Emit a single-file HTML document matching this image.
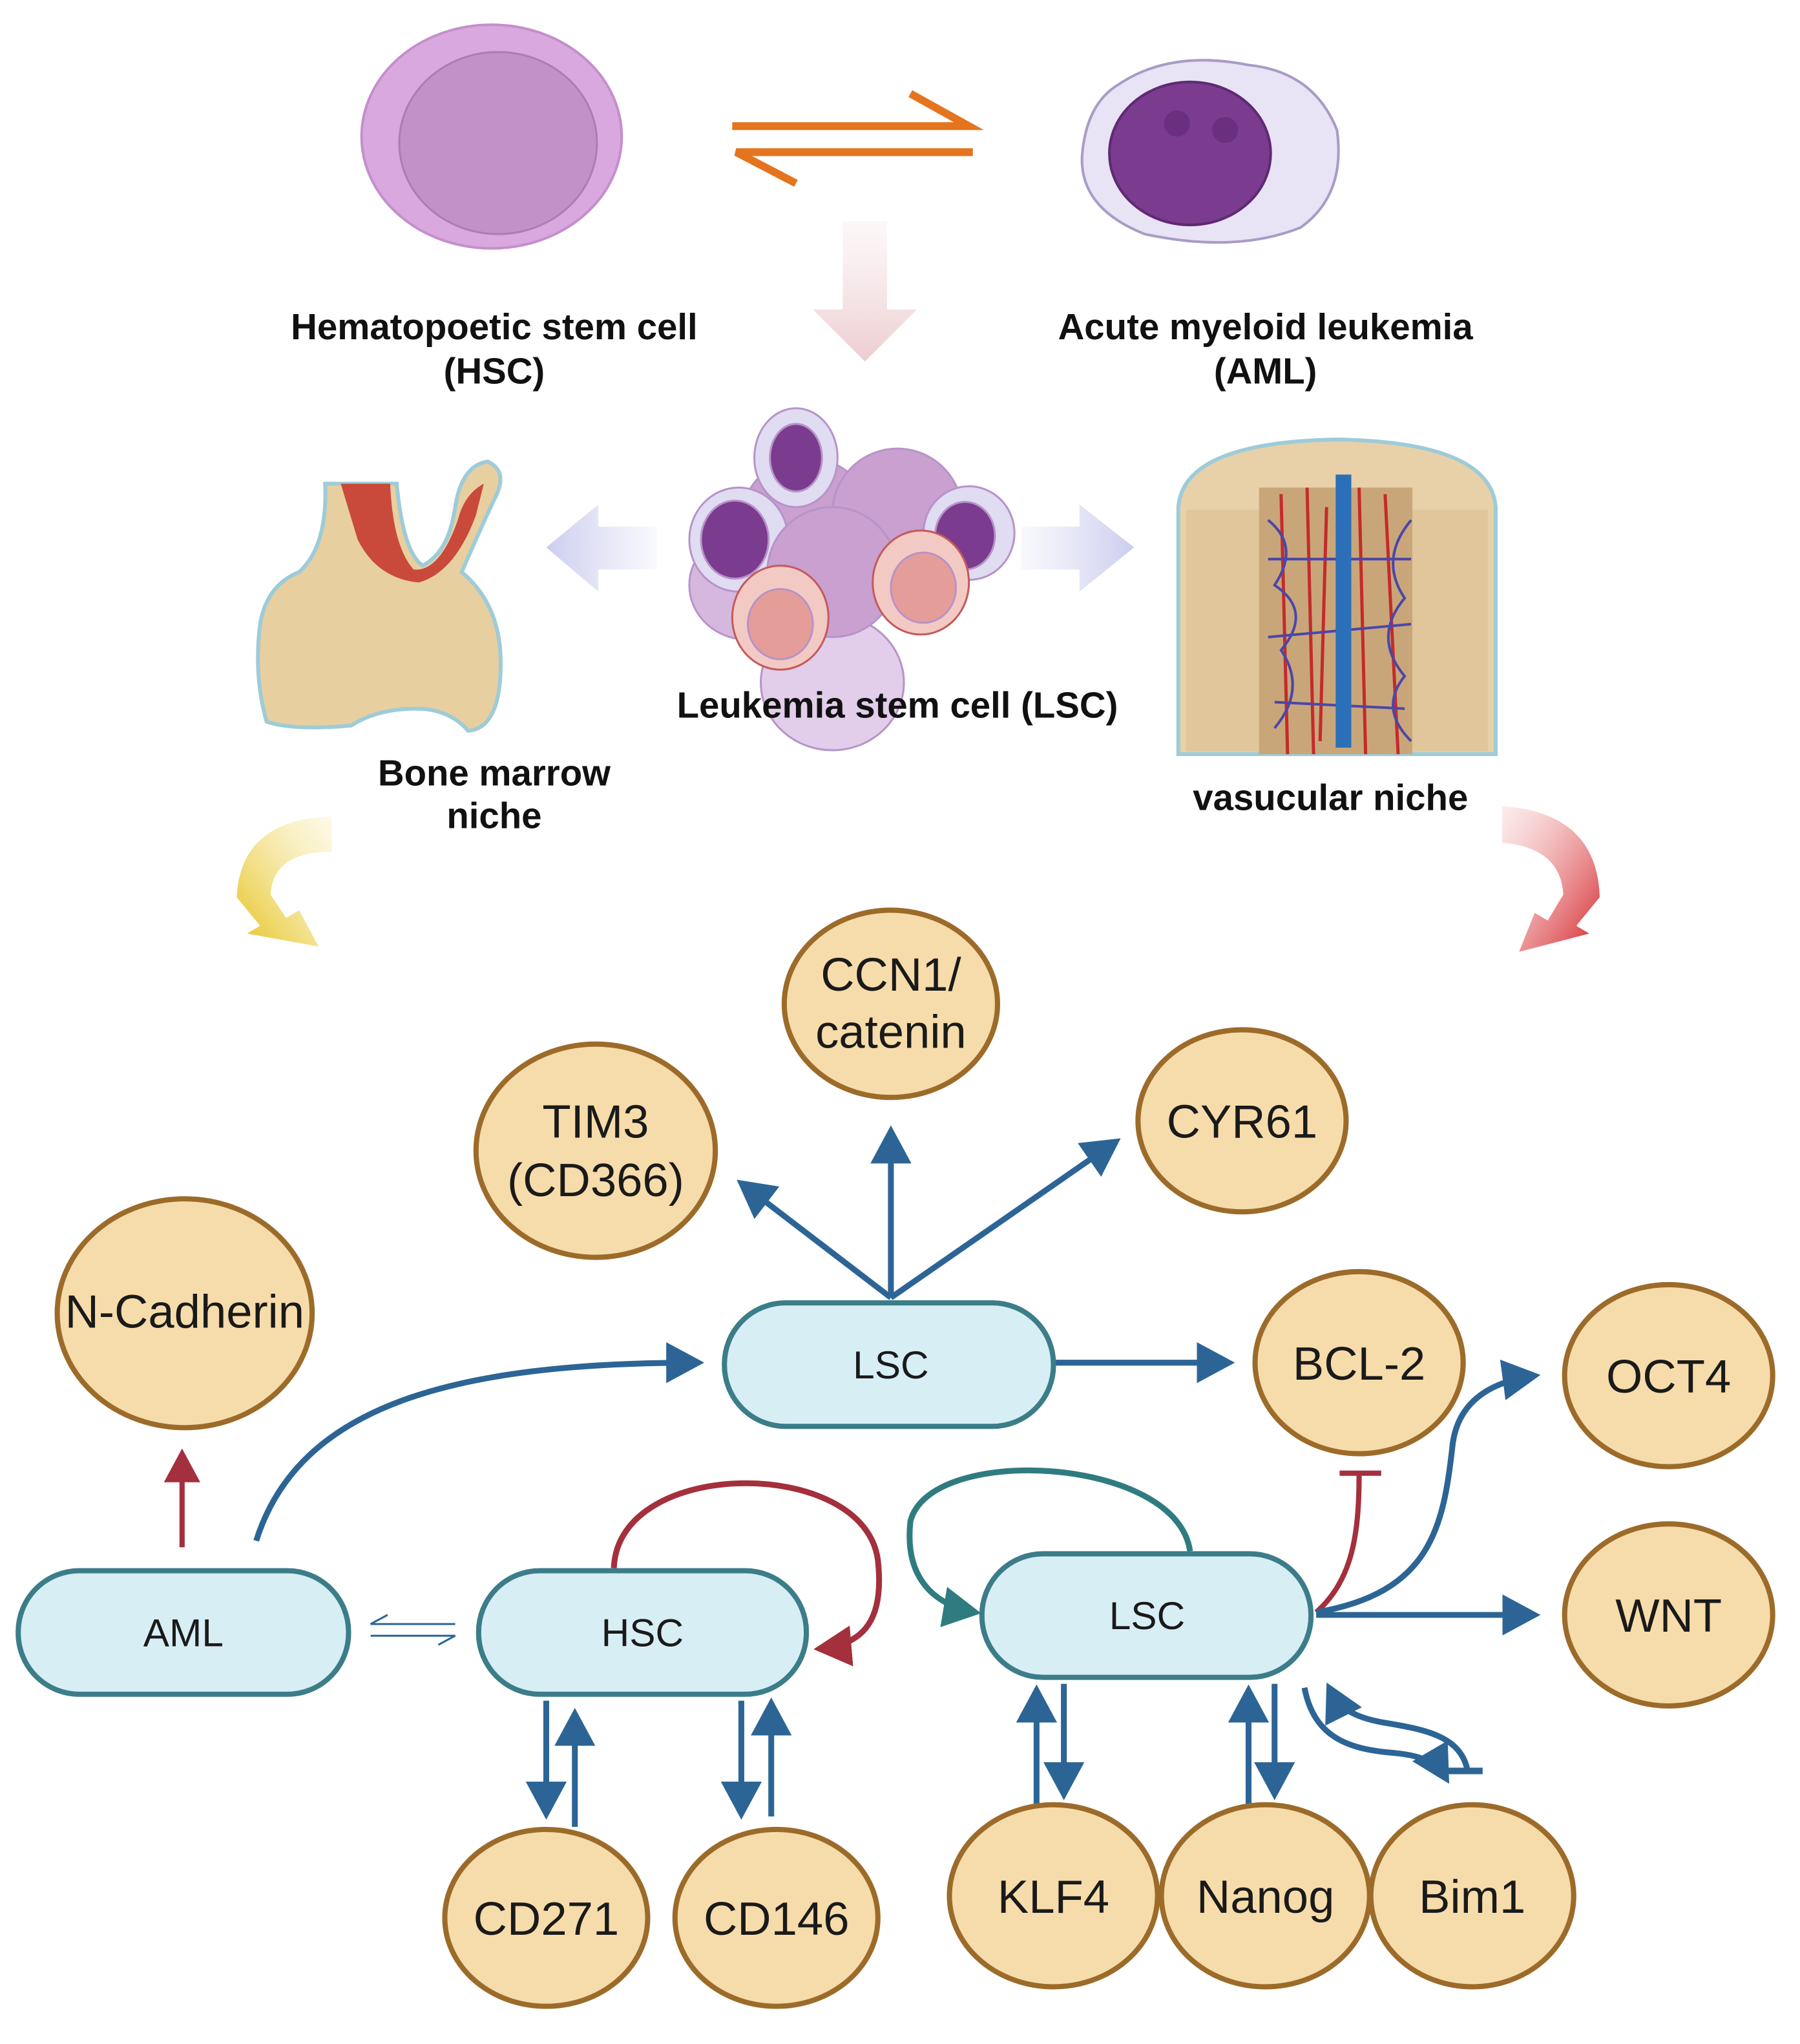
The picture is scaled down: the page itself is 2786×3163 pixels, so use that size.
<!DOCTYPE html>
<html><head><meta charset="utf-8"><style>
html,body{margin:0;padding:0;background:#fff}
svg{display:block}
text{font-family:"Liberation Sans",sans-serif}
.b{font-weight:bold;font-size:28px;fill:#111}
.n{font-size:36px;fill:#1a1a1a}
.p{font-size:30px;fill:#1a1a1a}
.e{fill:#f6dcaa;stroke:#9c6b2a;stroke-width:4}
.pl{fill:#d8eef5;stroke:#3b7d88;stroke-width:4}
.bl{fill:none;stroke:#2c6595;stroke-width:4.5}
</style></head><body>
<svg width="2786" height="3163" viewBox="0 0 1384 1572" preserveAspectRatio="none" xmlns="http://www.w3.org/2000/svg">
<defs>
<marker id="ab" markerWidth="8" markerHeight="8" refX="5.5" refY="3.5" orient="auto" markerUnits="strokeWidth"><path d="M0,0 L6.5,3.5 L0,7 z" fill="#2c6595"/></marker>
<marker id="ar" markerWidth="8" markerHeight="8" refX="5.5" refY="3.5" orient="auto" markerUnits="strokeWidth"><path d="M0,0 L6.5,3.5 L0,7 z" fill="#a3303c"/></marker>
<marker id="at" markerWidth="8" markerHeight="8" refX="5.5" refY="3.5" orient="auto" markerUnits="strokeWidth"><path d="M0,0 L6.5,3.5 L0,7 z" fill="#2f7c80"/></marker>
<linearGradient id="pk" x1="0" y1="0" x2="0" y2="1"><stop offset="0" stop-color="#f6e6e8" stop-opacity="0.3"/><stop offset="1" stop-color="#ecccd0"/></linearGradient>
<linearGradient id="lvL" x1="1" y1="0" x2="0" y2="0"><stop offset="0" stop-color="#dcdcf4" stop-opacity="0.2"/><stop offset="1" stop-color="#cccdee"/></linearGradient>
<linearGradient id="lvR" x1="0" y1="0" x2="1" y2="0"><stop offset="0" stop-color="#dcdcf4" stop-opacity="0.2"/><stop offset="1" stop-color="#cccdee"/></linearGradient>
<linearGradient id="yl" x1="1" y1="0" x2="0" y2="1"><stop offset="0" stop-color="#f8ecb0" stop-opacity="0.3"/><stop offset="1" stop-color="#e6c21e"/></linearGradient>
<linearGradient id="rd" x1="0" y1="0" x2="1" y2="1"><stop offset="0" stop-color="#f6c0c0" stop-opacity="0.3"/><stop offset="1" stop-color="#d4262c"/></linearGradient>
</defs>

<!-- HSC cell -->
<ellipse cx="378" cy="105" rx="100" ry="86" fill="#d9a8de" stroke="#c48fcb" stroke-width="2"/>
<ellipse cx="383" cy="110" rx="76" ry="70" fill="#c291c8" stroke="#b07ab8" stroke-width="1.5"/>
<!-- equilibrium arrows -->
<path d="M563,97 L745,97 L700,72" fill="none" stroke="#e5741e" stroke-width="6"/>
<path d="M748,117 L566,117 L612,141" fill="none" stroke="#e5741e" stroke-width="6"/>
<!-- AML cell -->
<path d="M860,65 Q900,38 960,50 Q1010,55 1028,100 Q1035,150 1000,175 Q950,195 880,180 Q830,160 832,120 Q835,80 860,65z" fill="#e8e3f5" stroke="#a89cc6" stroke-width="2"/>
<ellipse cx="915" cy="118" rx="62" ry="55" fill="#7b3b8f" stroke="#5e2a72" stroke-width="2"/>
<circle cx="905" cy="95" r="10" fill="#6a2f7e"/><circle cx="942" cy="100" r="10" fill="#6a2f7e"/>
<!-- pink down arrow -->
<path d="M648,170 L682,170 L682,238 L705,238 L665,278 L625,238 L648,238z" fill="url(#pk)"/>
<text class="b" x="380" y="261" text-anchor="middle">Hematopoetic stem cell</text>
<text class="b" x="380" y="295" text-anchor="middle">(HSC)</text>
<text class="b" x="973" y="261" text-anchor="middle">Acute myeloid leukemia</text>
<text class="b" x="973" y="295" text-anchor="middle">(AML)</text>

<!-- lavender arrows -->
<path d="M505,405 L460,405 L460,388 L420,421 L460,455 L460,438 L505,438z" fill="url(#lvL)"/>
<path d="M785,405 L830,405 L830,388 L872,421 L830,455 L830,438 L785,438z" fill="url(#lvR)"/>

<!-- LSC cluster -->
<g stroke="#b793c8" stroke-width="1.5">
<ellipse cx="640" cy="525" rx="55" ry="52" fill="#e2cdea"/>
<ellipse cx="620" cy="400" rx="50" ry="48" fill="#c9a0d0"/>
<ellipse cx="690" cy="395" rx="50" ry="50" fill="#c9a0d0"/>
<ellipse cx="575" cy="450" rx="45" ry="42" fill="#d6b8df"/>
<ellipse cx="612" cy="352" rx="32" ry="38" fill="#e0dcf2"/>
<ellipse cx="612" cy="352" rx="20" ry="26" fill="#7b3b8f"/>
<ellipse cx="568" cy="415" rx="38" ry="40" fill="#e0dcf2"/>
<ellipse cx="565" cy="415" rx="26" ry="30" fill="#7b3b8f"/>
<ellipse cx="745" cy="410" rx="35" ry="36" fill="#e0dcf2"/>
<ellipse cx="742" cy="412" rx="23" ry="26" fill="#7b3b8f"/>
<ellipse cx="640" cy="440" rx="50" ry="50" fill="#c9a0d0"/>
<ellipse cx="600" cy="475" rx="37" ry="40" fill="#f3c9c4" stroke="#c45a5a"/>
<ellipse cx="600" cy="480" rx="25" ry="27" fill="#e59d9a"/>
<ellipse cx="708" cy="448" rx="37" ry="40" fill="#f3c9c4" stroke="#c45a5a"/>
<ellipse cx="710" cy="452" rx="25" ry="27" fill="#e59d9a"/>
</g>
<text class="b" x="690" y="552" text-anchor="middle">Leukemia stem cell (LSC)</text>

<!-- bone -->
<path d="M250,372 L305,372 Q310,425 325,435 Q345,425 350,390 Q355,358 375,355 Q390,362 382,380 Q370,405 355,440 Q385,465 385,510 Q385,560 360,562 Q345,545 320,545 Q290,545 270,558 Q225,562 205,555 Q195,520 200,480 Q205,450 230,440 Q252,420 250,372z" fill="#e8cfa0" stroke="#9ecbd8" stroke-width="3"/>
<path d="M262,372 L300,372 Q302,420 318,438 Q338,440 352,400 Q357,380 372,372 L366,396 Q350,440 322,448 Q290,445 275,415z" fill="#c94a3a"/>
<text class="b" x="380" y="604" text-anchor="middle">Bone marrow</text>
<text class="b" x="380" y="637" text-anchor="middle">niche</text>

<!-- vascular niche -->
<path d="M906,580 L906,390 Q910,340 1028,338 Q1146,340 1150,390 L1150,580z" fill="#e8d1a8" stroke="#9ecbd8" stroke-width="3"/>
<rect x="912" y="392" width="232" height="186" fill="#e1c69c"/>
<rect x="968" y="375" width="118" height="205" fill="#c9a67a"/>
<g stroke="#c42b2b" stroke-width="2.5" fill="none">
<path d="M985,380 L990,580 M1005,375 L1010,580 M1045,375 L1050,580 M1065,380 L1075,580 M1020,390 L1015,570"/>
</g>
<g stroke="#4a47a8" stroke-width="2" fill="none">
<path d="M975,400 Q1000,420 980,450 Q1010,470 985,500 Q1005,530 980,560 M1085,400 Q1060,430 1080,460 Q1055,490 1080,520 Q1060,545 1085,570 M975,430 L1085,430 M975,490 L1085,480 M980,540 L1080,545"/>
</g>
<rect x="1027" y="365" width="12" height="210" fill="#2a6fb8"/>
<text class="b" x="1023" y="623" text-anchor="middle">vasucular niche</text>

<!-- curved arrows -->
<path d="M255,628 Q185,630 182,690 L200,712 L190,718 L245,728 L230,700 L220,706 L208,688 Q210,655 255,655z" fill="url(#yl)"/>
<path d="M1155,620 Q1228,625 1230,690 L1212,712 L1222,718 L1168,732 L1180,702 L1190,708 L1202,688 Q1200,652 1155,648z" fill="url(#rd)"/>

<!-- connectors -->
<line class="bl" x1="685" y1="998" x2="570" y2="910" marker-end="url(#ab)"/>
<line class="bl" x1="685" y1="998" x2="685" y2="870" marker-end="url(#ab)"/>
<line class="bl" x1="685" y1="998" x2="858" y2="878" marker-end="url(#ab)"/>
<path class="bl" d="M197,1185 C230,1080 350,1048 537,1048" marker-end="url(#ab)"/>
<line class="bl" x1="810" y1="1048" x2="945" y2="1048" marker-end="url(#ab)"/>
<line x1="140" y1="1190" x2="140" y2="1118" stroke="#a3303c" stroke-width="4" marker-end="url(#ar)"/>
<path d="M350,1249 L285,1249 L298,1242 M285,1258 L350,1258 L337,1265" fill="none" stroke="#2c6595" stroke-width="1.5"/>
<path d="M472,1206 C475,1120 665,1120 675,1200 C680,1245 665,1265 630,1268" fill="none" stroke="#a3303c" stroke-width="4.5" marker-end="url(#ar)"/>
<path d="M915,1193 C905,1120 715,1110 700,1170 C695,1215 720,1235 750,1240" fill="none" stroke="#2f7c80" stroke-width="4.5" marker-end="url(#at)"/>
<path d="M1012,1240 C1040,1215 1045,1180 1045,1133" fill="none" stroke="#a3303c" stroke-width="4"/>
<line x1="1030" y1="1133" x2="1062" y2="1133" stroke="#a3303c" stroke-width="4"/>
<path class="bl" d="M1012,1240 C1100,1225 1110,1175 1117,1110 C1122,1075 1150,1062 1180,1058" marker-end="url(#ab)"/>
<line class="bl" x1="1012" y1="1242" x2="1180" y2="1242" marker-end="url(#ab)"/>
<line class="bl" x1="420" y1="1308" x2="420" y2="1395" marker-end="url(#ab)"/>
<line class="bl" x1="442" y1="1405" x2="442" y2="1318" marker-end="url(#ab)"/>
<line class="bl" x1="570" y1="1308" x2="570" y2="1395" marker-end="url(#ab)"/>
<line class="bl" x1="593" y1="1397" x2="593" y2="1310" marker-end="url(#ab)"/>
<line class="bl" x1="797" y1="1388" x2="797" y2="1300" marker-end="url(#ab)"/>
<line class="bl" x1="818" y1="1295" x2="818" y2="1380" marker-end="url(#ab)"/>
<line class="bl" x1="960" y1="1388" x2="960" y2="1300" marker-end="url(#ab)"/>
<line class="bl" x1="980" y1="1295" x2="980" y2="1380" marker-end="url(#ab)"/>
<path class="bl" d="M1128,1360 C1122,1335 1095,1330 1065,1325 C1035,1320 1028,1310 1022,1298" marker-end="url(#ab)"/>
<path class="bl" d="M1003,1298 C1010,1335 1035,1345 1070,1348 C1095,1350 1105,1356 1112,1368" marker-end="url(#ab)"/>
<line x1="1108" y1="1362" x2="1140" y2="1362" stroke="#2c6595" stroke-width="5"/>

<!-- nodes -->
<ellipse class="e" cx="685" cy="772" rx="82" ry="72"/>
<text class="n" x="685" y="762" text-anchor="middle">CCN1/</text>
<text class="n" x="685" y="806" text-anchor="middle">catenin</text>
<ellipse class="e" cx="458" cy="885" rx="92" ry="82"/>
<text class="n" x="458" y="875" text-anchor="middle">TIM3</text>
<text class="n" x="458" y="920" text-anchor="middle">(CD366)</text>
<ellipse class="e" cx="955" cy="862" rx="80" ry="70"/>
<text class="n" x="955" y="875" text-anchor="middle">CYR61</text>
<ellipse class="e" cx="142" cy="1010" rx="98" ry="88"/>
<text class="n" x="142" y="1021" text-anchor="middle" font-size="33">N-Cadherin</text>
<ellipse class="e" cx="1045" cy="1048" rx="80" ry="70"/>
<text class="n" x="1045" y="1061" text-anchor="middle">BCL-2</text>
<ellipse class="e" cx="1283" cy="1058" rx="80" ry="70"/>
<text class="n" x="1283" y="1071" text-anchor="middle">OCT4</text>
<ellipse class="e" cx="1283" cy="1242" rx="80" ry="70"/>
<text class="n" x="1283" y="1255" text-anchor="middle">WNT</text>
<ellipse class="e" cx="420" cy="1475" rx="78" ry="68"/>
<text class="n" x="420" y="1488" text-anchor="middle">CD271</text>
<ellipse class="e" cx="597" cy="1475" rx="78" ry="68"/>
<text class="n" x="597" y="1488" text-anchor="middle">CD146</text>
<ellipse class="e" cx="810" cy="1458" rx="80" ry="70"/>
<text class="n" x="810" y="1471" text-anchor="middle">KLF4</text>
<ellipse class="e" cx="973" cy="1458" rx="80" ry="70"/>
<text class="n" x="973" y="1471" text-anchor="middle">Nanog</text>
<ellipse class="e" cx="1132" cy="1458" rx="78" ry="70"/>
<text class="n" x="1132" y="1471" text-anchor="middle">Bim1</text>

<rect class="pl" x="557" y="1002" width="253" height="95" rx="47"/>
<text class="p" x="685" y="1060" text-anchor="middle">LSC</text>
<rect class="pl" x="14" y="1208" width="254" height="95" rx="47"/>
<text class="p" x="141" y="1266" text-anchor="middle">AML</text>
<rect class="pl" x="368" y="1208" width="252" height="95" rx="47"/>
<text class="p" x="494" y="1266" text-anchor="middle">HSC</text>
<rect class="pl" x="755" y="1195" width="253" height="95" rx="47"/>
<text class="p" x="882" y="1253" text-anchor="middle">LSC</text>
</svg>
</body></html>
